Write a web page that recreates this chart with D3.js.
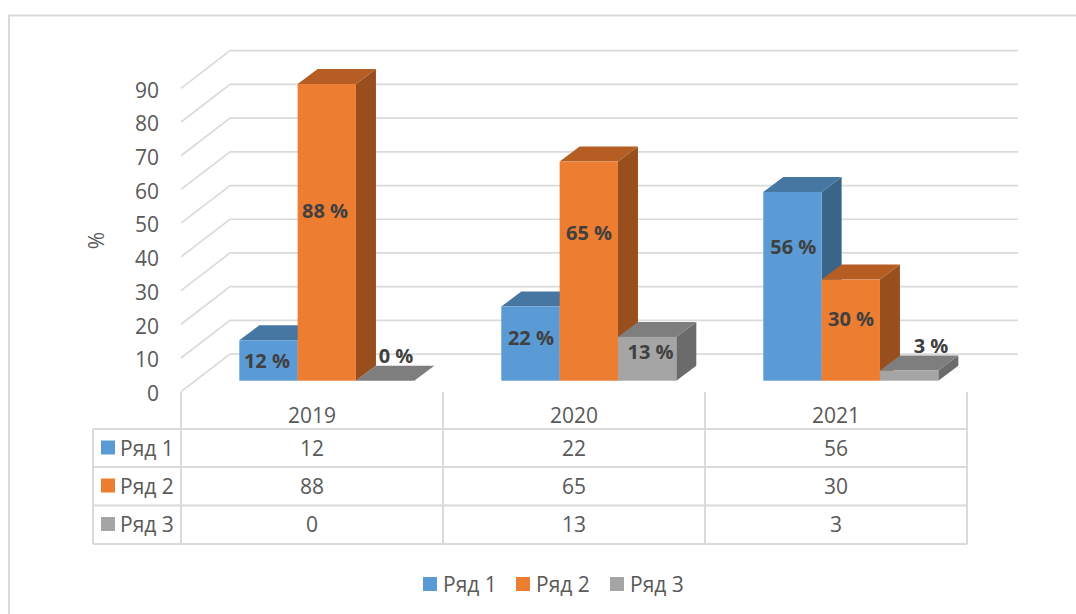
<!DOCTYPE html>
<html>
<head>
<meta charset="utf-8">
<style>
    html, body { margin: 0; padding: 0; background: #fff; }
    svg { display: block; font-family: "Open Sans", sans-serif; }
    .grid { stroke: #dadada; stroke-width: 2px; fill: none; }
    .wall { stroke-width: 1.7px; }
    .tick-label { font-size: 21px; fill: #595959; }
    .table-label { font-size: 21px; fill: #595959; }
    .data-label { font-size: 20px; font-weight: 700; fill: #404040; text-anchor: middle; }
</style>
</head>
<body>
<svg width="1076" height="614"></svg>
<script src="https://d3js.org/d3.v7.min.js"></script>
<script>
    var years = ["2019", "2020", "2021"];
    var seriesNames = ["Ряд 1", "Ряд 2", "Ряд 3"];
    var series1 = [12, 22, 56];
    var series2 = [88, 65, 30];
    var series3 = [0, 13, 3];
    var yTicks = [0, 10, 20, 30, 40, 50, 60, 70, 80, 90];

    var seriesValues = [series1, series2, series3];
    var front = ["#5b9bd5", "#ed7d31", "#a5a5a5"];
    var top3d = ["#4676a2", "#b55d23", "#7e7e7e"];
    var side3d = ["#3a6589", "#984f1d", "#6b6b6b"];

    var svg = d3.select("svg");

    // floor depth of the 3d box, and where the bars sit in it
    var wallDx = 49, wallDy = -37.6;
    var barShiftDx = 14.3, barShiftDy = -11;
    var barDx = 20, barDy = -15;

    var x = d3.scaleBand().domain(years).range([181, 967]);
    var inner = d3.scaleBand().domain(d3.range(3)).range([44, 219]);
    var y = d3.scaleLinear().domain([0, 90]).range([391.7, 88.3]);

    function barLeft(i, s) { return x(years[i]) + barShiftDx + inner(s); }
    function barTop(v) { return y(v) + barShiftDy; }

    // chart frame
    svg.append("path").attr("class", "grid")
        .attr("d", "M9,614V15.5H1076");

    // gridlines on the floor edge and back wall
    yTicks.forEach(function (t) {
        svg.append("path").attr("class", "grid wall")
            .attr("d", d3.line()([
                [x.range()[0], y(t)],
                [x.range()[0] + wallDx, y(t) + wallDy],
                [1018, y(t) + wallDy]
            ]));
        svg.append("text").attr("class", "tick-label")
            .attr("x", 159).attr("y", y(t) + 9.3)
            .attr("text-anchor", "end").text(t);
    });

    svg.append("text").attr("class", "tick-label")
        .attr("transform", "translate(104,240.5) rotate(-90)")
        .attr("text-anchor", "middle").text("%");

    years.forEach(function (year, i) {
        seriesValues.forEach(function (vals, s) {
            var x0 = barLeft(i, s), x1 = x0 + inner.bandwidth();
            var yb = barTop(0), yt = barTop(vals[i]);
            var g = svg.append("g");
            g.append("path").attr("fill", side3d[s])
                .attr("d", d3.line()([[x1, yb], [x1 + barDx, yb + barDy], [x1 + barDx, yt + barDy], [x1, yt]]) + "Z");
            g.append("path").attr("fill", top3d[s])
                .attr("d", d3.line()([[x0, yt], [x0 + barDx, yt + barDy], [x1 + barDx, yt + barDy], [x1, yt]]) + "Z");
            g.append("rect").attr("fill", front[s])
                .attr("x", x0).attr("y", yt).attr("width", inner.bandwidth()).attr("height", yb - yt);
        });
    });

    // labels were nudged by hand in the original, so each has its own shift from the bar top centre
    var labelDx = [[-1.5, -1.8, 10.9], [0.5, 0.2, 3.4], [0.8, 0.2, 21.9]];
    var labelDy = [[28.1, 134, -17.7], [38.5, 78.4, 22.1], [62.1, 46.4, -17.6]];
    years.forEach(function (year, i) {
        seriesValues.forEach(function (vals, s) {
            svg.append("text").attr("class", "data-label")
                .attr("x", barLeft(i, s) + inner.bandwidth() / 2 + labelDx[i][s])
                .attr("y", barTop(vals[i]) + labelDy[i][s])
                .text(vals[i] + " %");
        });
    });

    // data table
    var rowY = [429, 467, 505.5, 544];
    var tableLeft = 93;
    rowY.forEach(function (ry) {
        svg.append("line").attr("class", "grid")
            .attr("x1", tableLeft).attr("x2", x.range()[1]).attr("y1", ry).attr("y2", ry);
    });
    svg.append("line").attr("class", "grid")
        .attr("x1", tableLeft).attr("x2", tableLeft).attr("y1", rowY[0]).attr("y2", rowY[3]);
    x.domain().concat(["end"]).forEach(function (d, i) {
        var lx = i < 3 ? x(d) : x.range()[1];
        svg.append("line").attr("class", "grid")
            .attr("x1", lx).attr("x2", lx).attr("y1", 392).attr("y2", rowY[3]);
    });
    years.forEach(function (year, i) {
        var cx = x(year) + x.bandwidth() / 2;
        svg.append("text").attr("class", "table-label").attr("text-anchor", "middle")
            .attr("x", cx).attr("y", 423.3).text(year);
        seriesValues.forEach(function (vals, s) {
            svg.append("text").attr("class", "table-label").attr("text-anchor", "middle")
                .attr("x", cx).attr("y", rowY[s] + 26.7).text(vals[i]);
        });
    });
    seriesNames.forEach(function (name, s) {
        svg.append("rect").attr("x", 101).attr("y", rowY[s] + 11.5).attr("width", 14).attr("height", 14).attr("fill", front[s]);
        svg.append("text").attr("class", "table-label")
            .attr("x", 120).attr("y", rowY[s] + 26.7).text(name);
    });

    // legend
    var legendX = [423, 516, 610];
    seriesNames.forEach(function (name, s) {
        svg.append("rect").attr("x", legendX[s]).attr("y", 577).attr("width", 14).attr("height", 14).attr("fill", front[s]);
        svg.append("text").attr("class", "table-label")
            .attr("x", legendX[s] + 20).attr("y", 592).text(name);
    });
</script>
</body>
</html>
